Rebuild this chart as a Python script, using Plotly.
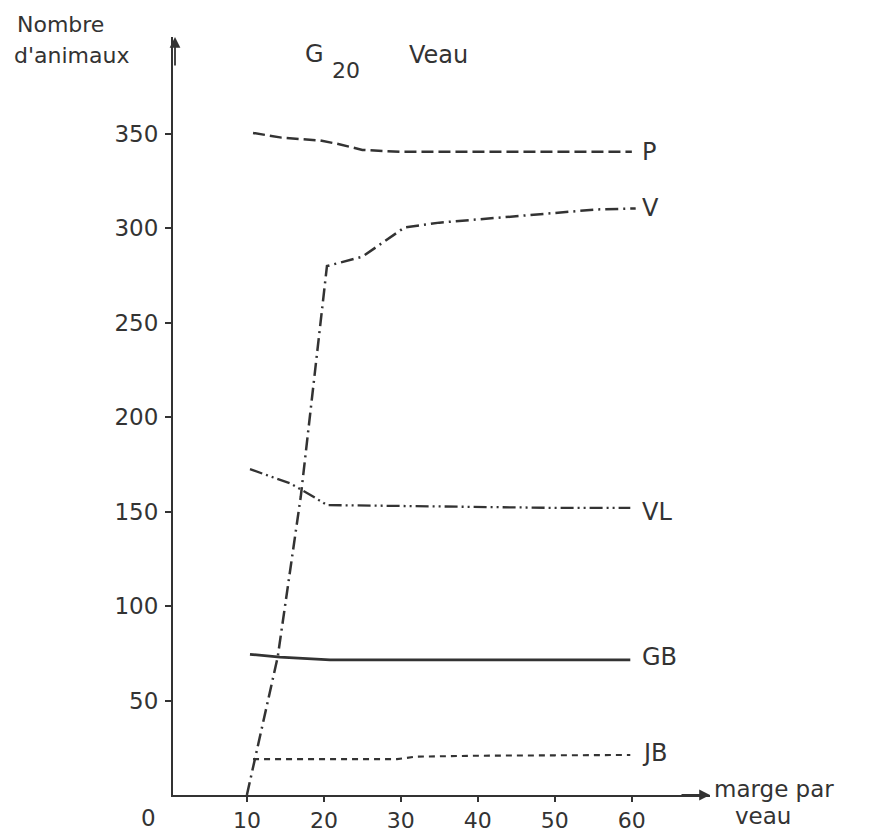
import plotly.graph_objects as go

# ---- data ----
x_P = [10.8, 14.5, 19.5, 22, 25, 30, 40, 50, 60]
y_P = [350.5, 348, 346.5, 344.5, 341.5, 340.5, 340.5, 340.5, 340.5]

x_V = [10, 14, 17, 20.4, 25, 30.5, 35, 42.5, 51, 55.5, 60.5]
y_V = [0, 73, 158, 280, 285, 300.5, 303, 305.5, 308.5, 310, 310.5]

x_VL = [10.4, 15.6, 18.2, 20.4, 30, 40, 50, 59.8]
y_VL = [172.5, 165, 159, 153.5, 153, 152.5, 152, 152]

x_GB = [10.4, 14.3, 20.8, 30, 45, 59.8]
y_GB = [74.5, 73, 71.5, 71.5, 71.5, 71.5]

x_JB = [10.8, 29.5, 32, 40, 50, 59.8]
y_JB = [19, 19, 20.3, 20.8, 21, 21.2]

series_names = ["P", "V", "VL", "GB", "JB"]
label_y = [340.5, 311, 150, 73, 22]

x_ticks = [10, 20, 30, 40, 50, 60]
y_ticks = [50, 100, 150, 200, 250, 300, 350]

title_main = "G"
title_sub = "20"
title_word = "Veau"
y_title = ["Nombre", "d'animaux"]
x_title = ["marge par", "veau"]

# ---- styling ----
INK = "#333333"
FONT = "DejaVu Sans"
W, H = 881, 835
L, R, T, B = 173, 171, 37, 40
PW, PH = W - L - R, H - T - B


def px(xp):
    return (xp - L) / PW


def py(yp):
    return (H - B - yp) / PH


fig = go.Figure()

styles = [
    dict(dash="12px,5px", width=2.5),
    dict(dash="13px,5px,2px,5px", width=2.5),
    dict(dash="13px,4px,2px,4px,2px,4px", width=2.3),
    dict(dash="solid", width=2.8),
    dict(dash="6px,5px", width=2.1),
]
data = [(x_P, y_P), (x_V, y_V), (x_VL, y_VL), (x_GB, y_GB), (x_JB, y_JB)]

for (xs, ys), name, st in zip(data, series_names, styles):
    fig.add_trace(go.Scatter(
        x=xs, y=ys, mode="lines", name=name,
        line=dict(color=INK, width=st["width"], dash=st["dash"]),
        showlegend=False, hoverinfo="skip", cliponaxis=False,
    ))

annotations = []
# series labels at right end
for name, ly in zip(series_names, label_y):
    annotations.append(dict(
        x=61.1, y=ly, xref="x", yref="y", text=name, showarrow=False,
        xanchor="left", yanchor="middle",
        font=dict(family=FONT, size=24, color=INK),
    ))

# title G20 Veau
annotations.append(dict(x=px(314), y=py(54), xref="paper", yref="paper",
                        text=title_main, showarrow=False, xanchor="center", yanchor="middle",
                        font=dict(family=FONT, size=24, color=INK)))
annotations.append(dict(x=px(346), y=py(71), xref="paper", yref="paper",
                        text=title_sub, showarrow=False, xanchor="center", yanchor="middle",
                        font=dict(family=FONT, size=22, color=INK)))
annotations.append(dict(x=px(407), y=py(55), xref="paper", yref="paper",
                        text=title_word, showarrow=False, xanchor="left", yanchor="middle",
                        font=dict(family=FONT, size=24, color=INK)))

# y axis title
annotations.append(dict(x=px(15), y=py(24), xref="paper", yref="paper",
                        text=y_title[0], showarrow=False, xanchor="left", yanchor="middle",
                        font=dict(family=FONT, size=22, color=INK)))
annotations.append(dict(x=px(12), y=py(55), xref="paper", yref="paper",
                        text=y_title[1], showarrow=False, xanchor="left", yanchor="middle",
                        font=dict(family=FONT, size=22, color=INK)))

# x axis title
annotations.append(dict(x=px(712), y=py(789), xref="paper", yref="paper",
                        text=x_title[0], showarrow=False, xanchor="left", yanchor="middle",
                        font=dict(family=FONT, size=23, color=INK)))
annotations.append(dict(x=px(763), y=py(816), xref="paper", yref="paper",
                        text=x_title[1], showarrow=False, xanchor="center", yanchor="middle",
                        font=dict(family=FONT, size=23, color=INK)))

# origin label "0"
annotations.append(dict(x=px(148), y=py(818), xref="paper", yref="paper",
                        text="0", showarrow=False, xanchor="center", yanchor="middle",
                        font=dict(family=FONT, size=23, color=INK)))

# arrow heads on the axes
annotations.append(dict(x=1, y=0, xref="paper", yref="paper", text="",
                        showarrow=True, ax=-30, ay=0, axref="pixel", ayref="pixel",
                        arrowhead=2, arrowsize=1.2, arrowwidth=1.8, arrowcolor=INK))
annotations.append(dict(x=px(175), y=1, xref="paper", yref="paper", text="",
                        showarrow=True, ax=0, ay=30, axref="pixel", ayref="pixel",
                        arrowhead=2, arrowsize=1.2, arrowwidth=1.8, arrowcolor=INK))

# axis ranges computed from the reference scale
x0 = (L - 169.9) / 7.699
x1 = (L + PW - 169.9) / 7.699
y1 = (H - B - T) / 1.889

fig.update_layout(
    width=W, height=H,
    margin=dict(l=L, r=R, t=T, b=B, pad=0, autoexpand=False),
    paper_bgcolor="white", plot_bgcolor="white",
    showlegend=False,
    annotations=annotations,
    xaxis=dict(
        range=[x0, x1], showgrid=False, zeroline=False, automargin=False,
        showline=True, linecolor=INK, linewidth=2,
        tickmode="array", tickvals=x_ticks, ticktext=[str(v) for v in x_ticks],
        ticks="outside", ticklen=5, tickwidth=1.5, tickcolor=INK,
        ticklabelstandoff=0,
        tickfont=dict(family=FONT, size=22, color=INK),
    ),
    yaxis=dict(
        range=[0, y1], showgrid=False, zeroline=False, automargin=False,
        showline=True, linecolor=INK, linewidth=2,
        tickmode="array", tickvals=y_ticks, ticktext=[str(v) for v in y_ticks],
        ticks="outside", ticklen=6, tickwidth=1.5, tickcolor=INK,
        ticklabelstandoff=2,
        tickfont=dict(family=FONT, size=23, color=INK),
    ),
)

fig.write_html(
    "out.html",
    config={"displayModeBar": False},
    post_script="document.body.style.margin='0';document.body.style.padding='0';",
)
